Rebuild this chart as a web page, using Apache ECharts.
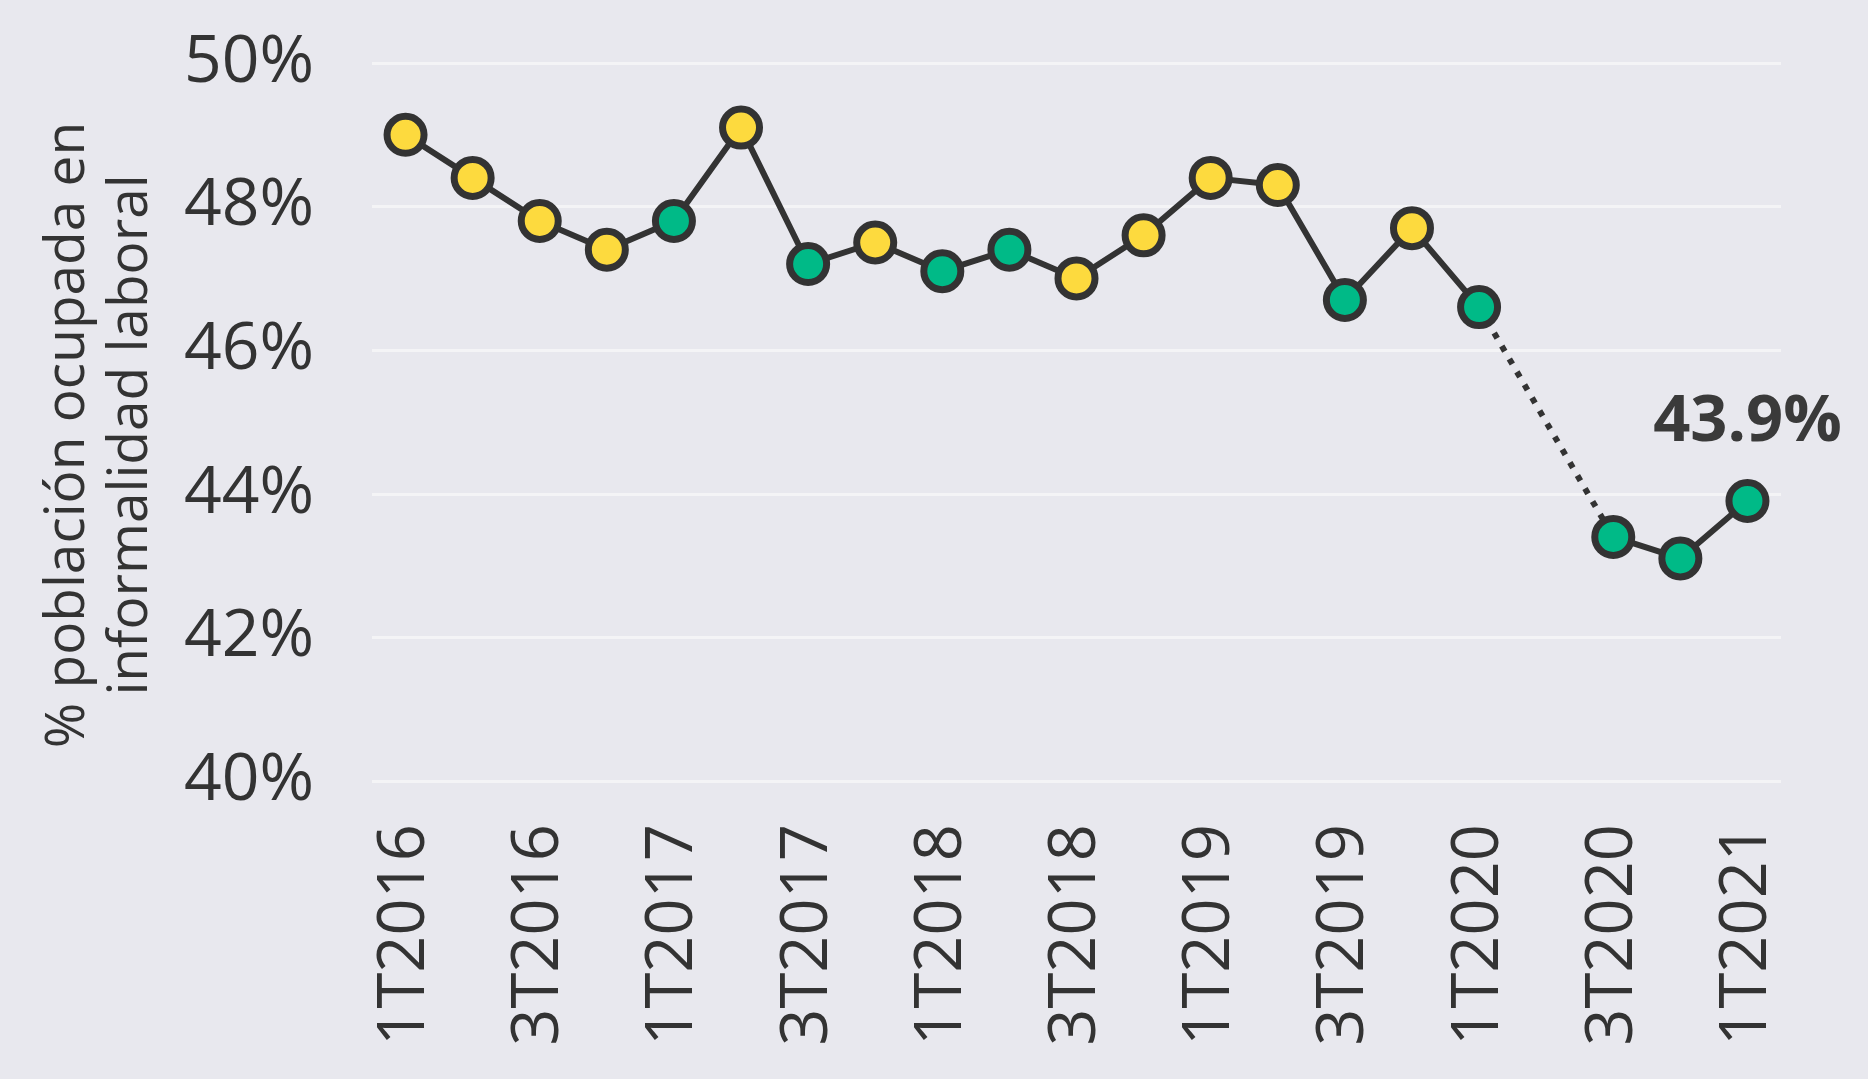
<!DOCTYPE html>
<html>
<head>
<meta charset="utf-8">
<script src="https://cdn.jsdelivr.net/npm/echarts@6/dist/echarts.min.js"></script>
<style>
html,body{margin:0;padding:0;background:#E8E8EE;}
#chart{width:1868px;height:1079px;}
</style>
</head>
<body>
<div id="chart"></div>
<script>
const categories = ['1T2016','2T2016','3T2016','4T2016','1T2017','2T2017','3T2017','4T2017','1T2018','2T2018','3T2018','4T2018','1T2019','2T2019','3T2019','4T2019','1T2020','2T2020','3T2020','4T2020','1T2021'];
const values = [49.0,48.4,47.8,47.4,47.8,49.1,47.2,47.5,47.1,47.4,47.0,47.6,48.4,48.3,46.7,47.7,46.6,null,43.4,43.1,43.9];
const colorGroup = ['Y','Y','Y','Y','G','Y','G','Y','G','G','Y','Y','Y','Y','G','Y','G',null,'G','G','G'];
const gapFrom = 16, gapTo = 18;
const yTicks = {min:40, max:50, interval:2};
const yName = '% población ocupada en\ninformalidad laboral';

const COLORS = {Y:'#FDDA3E', G:'#00BA87'};
const DARK = '#333333';

const mainData = values.map((v,i)=>{
  if (v === null) return null;
  const item = {value:v, itemStyle:{color:COLORS[colorGroup[i]]}};
  if (i === values.length-1) {
    item.label = {show:true, position:'top', distance:24, formatter: (p)=>p.value.toFixed(1)+'%',
      fontFamily:'Open Sans', fontWeight:'bold', fontSize:65, color:'#3a3a3a'};
  }
  return item;
});
const gapData = values.map((v,i)=> (i===gapFrom||i===gapTo) ? v : null);

const chart = echarts.init(document.getElementById('chart'));
chart.setOption({
  backgroundColor:'#E8E8EE',
  animation:false,
  grid:{left:372, right:87, top:63, bottom:298, containLabel:false},
  xAxis:{
    type:'category', data:categories, boundaryGap:true,
    axisLine:{show:false}, axisTick:{show:false}, splitLine:{show:false},
    axisLabel:{interval:1, rotate:90, margin:43, fontFamily:'Open Sans', fontSize:65, color:DARK}
  },
  yAxis:{
    type:'value', min:yTicks.min, max:yTicks.max, interval:yTicks.interval,
    name:yName, nameLocation:'middle', nameRotate:90, nameGap:209,
    nameTextStyle:{fontFamily:'Open Sans', fontSize:55, lineHeight:63, color:DARK, align:'center', padding:[0,26,0,0]},
    axisLine:{show:false}, axisTick:{show:false},
    splitLine:{show:true, lineStyle:{color:'#F4F4F6', width:3}},
    axisLabel:{formatter:'{value}%', margin:58, fontFamily:'Open Sans', fontSize:66, color:DARK}
  },
  series:[
    {
      type:'line', data:gapData, connectNulls:true, showSymbol:false, symbol:'none',
      lineStyle:{color:DARK, width:6, type:[6,9]}, z:1, silent:true
    },
    {
      type:'line', data:mainData, connectNulls:false,
      symbol:'circle', symbolSize:37, showAllSymbol:true,
      itemStyle:{borderColor:DARK, borderWidth:7},
      lineStyle:{color:DARK, width:6}, z:2
    }
  ]
});
</script>
</body>
</html>
